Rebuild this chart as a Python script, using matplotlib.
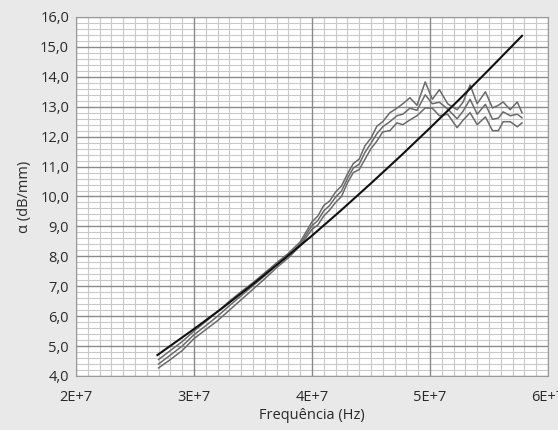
import matplotlib
matplotlib.use('Agg')
import matplotlib.pyplot as plt
from matplotlib.ticker import MultipleLocator, FuncFormatter

plt.rcParams['font.family'] = ['Open Sans', 'DejaVu Sans']

# frequencias em unidades de 1E+7 Hz
f_modelo = [2.69, 3.0, 3.25, 3.5, 3.75, 4.0, 4.25, 4.5, 4.75, 5.0, 5.25, 5.5, 5.78]
a_modelo = [4.70, 5.57, 6.30, 7.07, 7.87, 8.69, 9.55, 10.44, 11.35, 12.29, 13.25, 14.24, 15.37]

f_med = [2.70, 2.80, 2.90, 3.00, 3.10, 3.20, 3.30, 3.40, 3.50, 3.60, 3.70, 3.80,
         3.90, 4.00, 4.05, 4.10, 4.15, 4.20, 4.25, 4.30, 4.35, 4.40, 4.45, 4.50,
         4.55, 4.60, 4.66, 4.72, 4.77, 4.83, 4.89, 4.96, 5.02, 5.08, 5.15, 5.23,
         5.28, 5.34, 5.40, 5.47, 5.53, 5.58, 5.62, 5.68, 5.74, 5.78]

a_sup = [4.55, 4.85, 5.15, 5.50, 5.82, 6.15, 6.50, 6.82, 7.12, 7.45, 7.78, 8.10,
         8.48, 9.15, 9.35, 9.70, 9.85, 10.15, 10.35, 10.75, 11.10, 11.25, 11.70, 11.95,
         12.35, 12.50, 12.80, 12.95, 13.10, 13.30, 13.05, 13.83, 13.25, 13.57, 13.10, 12.90,
         13.15, 13.73, 13.10, 13.50, 12.96, 13.05, 13.16, 12.90, 13.16, 12.80]

a_mei = [4.40, 4.70, 5.00, 5.38, 5.68, 6.00, 6.35, 6.68, 7.02, 7.35, 7.70, 8.02,
         8.42, 9.02, 9.20, 9.52, 9.70, 9.98, 10.18, 10.60, 10.95, 11.08, 11.48, 11.78,
         12.10, 12.33, 12.50, 12.70, 12.75, 12.95, 12.88, 13.40, 13.10, 13.15, 12.92, 12.60,
         12.85, 13.25, 12.75, 13.08, 12.58, 12.62, 12.83, 12.70, 12.75, 12.63]

a_inf = [4.27, 4.55, 4.85, 5.25, 5.55, 5.85, 6.20, 6.55, 6.90, 7.25, 7.62, 7.95,
         8.35, 8.90, 9.05, 9.35, 9.55, 9.80, 10.00, 10.45, 10.80, 10.90, 11.25, 11.60,
         11.85, 12.16, 12.20, 12.46, 12.40, 12.56, 12.70, 12.96, 12.95, 12.70, 12.75, 12.30,
         12.55, 12.80, 12.40, 12.66, 12.20, 12.20, 12.50, 12.50, 12.33, 12.46]

fig = plt.figure(figsize=(5.58, 4.30), dpi=100, facecolor='#e9e9e9')
ax = fig.add_axes([0.1362, 0.1256, 0.8458, 0.8349])
ax.set_facecolor('white')

ax.set_xlim(2e7, 6e7)
ax.set_ylim(4, 16)
ax.xaxis.set_major_locator(MultipleLocator(1e7))
ax.xaxis.set_minor_locator(MultipleLocator(1e6))
ax.yaxis.set_major_locator(MultipleLocator(1.0))
ax.yaxis.set_minor_locator(MultipleLocator(0.2))
ax.xaxis.set_major_formatter(FuncFormatter(lambda v, p: '%dE+7' % round(v / 1e7)))
ax.yaxis.set_major_formatter(FuncFormatter(lambda v, p: ('%.1f' % v).replace('.', ',')))

# grade fina atras, grade principal por cima dela
ax.grid(which='minor', color='#c9c9c9', lw=0.8)
ax.set_axisbelow(True)
for xv in ax.get_xticks():
    ax.axvline(xv, color='#8a8a8a', lw=1.0, zorder=1)
for yv in ax.get_yticks():
    ax.axhline(yv, color='#8a8a8a', lw=1.0, zorder=1)

for a in (a_sup, a_mei, a_inf):
    ax.plot([f * 1e7 for f in f_med], a, color='#6a6a6a', lw=1.1, zorder=3)
ax.plot([f * 1e7 for f in f_modelo], a_modelo, color='#111111', lw=1.5, zorder=4)

ax.tick_params(which='both', length=0, labelsize=10.5, colors='#2a2a2a')
ax.tick_params(axis='x', pad=10)
ax.tick_params(axis='y', pad=5)
for s in ax.spines.values():
    s.set_color('#9a9a9a')

ax.set_xlabel('Frequência (Hz)', fontsize=10.5, color='#2a2a2a', labelpad=2)
ax.set_ylabel('α (dB/mm)', fontsize=10.5, color='#2a2a2a', labelpad=6)

fig.savefig('out.png', dpi=100, facecolor=fig.get_facecolor())
